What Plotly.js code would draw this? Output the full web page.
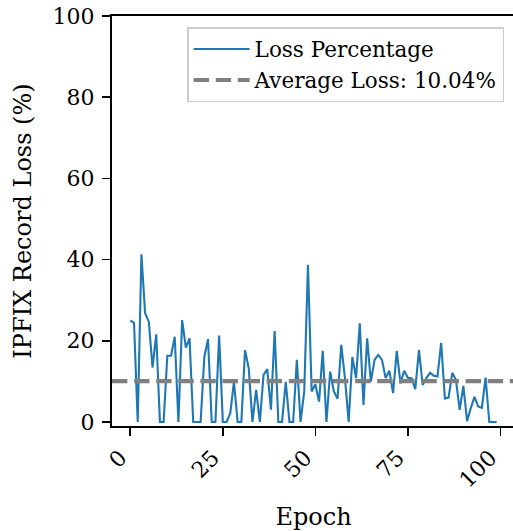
<!DOCTYPE html>
<html>
<head>
<meta charset="utf-8">
<script src="https://cdn.plot.ly/plotly-3.0.1.min.js"></script>
<style>
html,body{margin:0;padding:0;overflow:hidden;background:#fff;}
#chart{width:516px;height:531px;}
</style>
</head>
<body>
<div id="chart"></div>
<script>
const epochs = Array.from({length: 100}, (_, i) => i);
const lossPct = [
  25.0, 24.4, 0.0, 41.3, 26.8, 24.7, 13.4, 21.6, 0.0, 0.0,
  16.3, 16.3, 21.0, 0.0, 25.1, 18.3, 20.6, 0.0, 0.0, 0.0,
  16.0, 20.4, 0.0, 0.0, 21.3, 0.0, 0.0, 2.1, 9.9, 0.0,
  0.0, 17.7, 13.2, 0.0, 7.9, 0.0, 11.6, 13.0, 3.0, 22.4,
  0.0, 0.0, 9.9, 0.0, 0.0, 15.3, 0.0, 7.5, 38.7, 7.5,
  9.3, 5.0, 17.5, 0.0, 12.4, 7.5, 5.7, 19.0, 10.8, 0.0,
  16.0, 10.8, 24.3, 4.2, 20.6, 9.9, 15.3, 16.5, 15.3, 10.8,
  12.6, 7.1, 17.5, 9.5, 12.6, 10.9, 10.8, 8.1, 17.7, 9.1,
  10.8, 12.1, 11.4, 11.2, 19.5, 5.8, 6.0, 12.1, 10.3, 3.0,
  8.9, 0.2, 3.4, 6.2, 3.8, 3.5, 10.9, 0.0, 0.0, 0.0
];
const avgLoss = 10.04;
const xTicks = [0, 25, 50, 75, 100];
const yTicks = [0, 20, 40, 60, 80, 100];

const tickFont = {family: "DejaVu Serif", size: 22, color: "#000"};
const titleFont = {family: "DejaVu Serif", size: 24, color: "#000"};
const legendFont = {family: "DejaVu Serif", size: 21.5, color: "#000"};

const traces = [
  {
    x: epochs, y: lossPct, type: "scatter", mode: "lines",
    name: "Loss Percentage",
    line: {color: "#1f77b4", width: 2.1}
  },
  {
    x: [-4.95, 103.95], y: [avgLoss, avgLoss], type: "scatter", mode: "lines",
    name: "Average Loss: " + avgLoss.toFixed(2) + "%",
    line: {color: "#808080", width: 4.2, dash: "15.4px,6.7px"}
  }
];

const layout = {
  width: 516, height: 531,
  margin: {l: 112, r: 1.4, t: 16, b: 105},
  paper_bgcolor: "#fff", plot_bgcolor: "#fff",
  font: tickFont,
  showlegend: true,
  legend: {
    x: 0.973, y: 0.973, xanchor: "right", yanchor: "top",
    bgcolor: "rgba(255,255,255,0.8)", bordercolor: "#cccccc", borderwidth: 1.5,
    font: legendFont, tracegroupgap: 0, itemwidth: 56
  },
  xaxis: {
    range: [-4.95, 103.95],
    tickvals: xTicks, ticktext: xTicks.map(String),
    tickangle: -45,
    ticks: "outside", ticklen: 8.5, tickwidth: 1.7, tickcolor: "#000",
    ticklabelshift: -10,
    showline: true, linecolor: "#000", linewidth: 1.7, mirror: true,
    showgrid: false, zeroline: false,
    tickfont: tickFont,
    title: {text: "Epoch", font: titleFont, standoff: 18}
  },
  yaxis: {
    range: [-1, 100],
    tickvals: yTicks, ticktext: yTicks.map(String),
    ticks: "outside", ticklen: 8.5, tickwidth: 1.7, tickcolor: "#000",
    ticklabelstandoff: 3,
    showline: true, linecolor: "#000", linewidth: 1.7, mirror: true,
    showgrid: false, zeroline: false,
    tickfont: tickFont,
    title: {text: "IPFIX Record Loss (%)", font: titleFont, standoff: 14}
  }
};

Plotly.newPlot("chart", traces, layout, {staticPlot: true, displayModeBar: false});
</script>
</body>
</html>
